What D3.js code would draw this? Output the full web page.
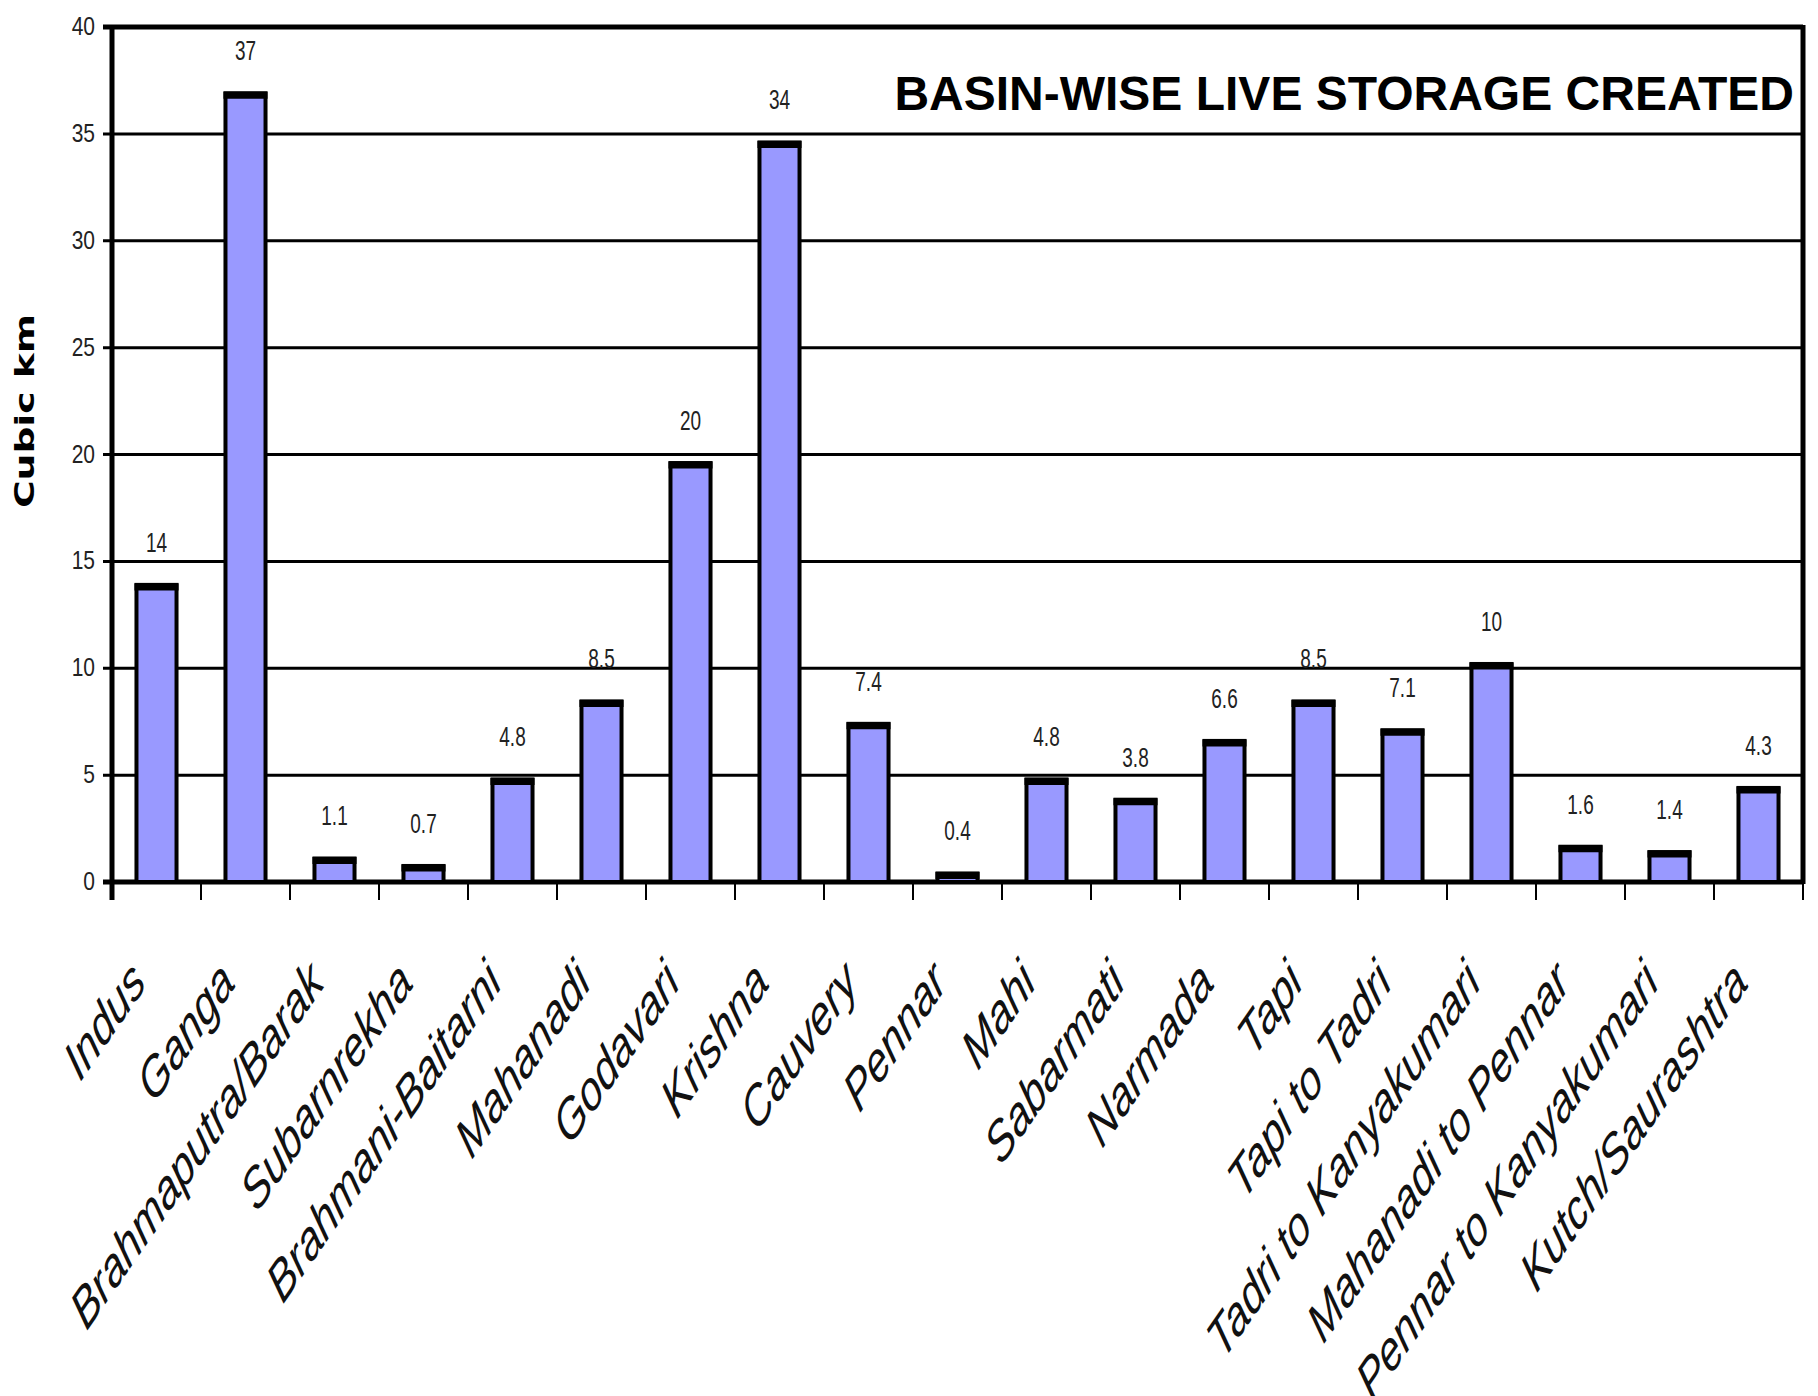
<!DOCTYPE html>
<html>
<head>
<meta charset="utf-8">
<script src="https://cdn.jsdelivr.net/npm/d3@7"></script>
<style>
  body { margin: 0; background: #fff; }
  svg { display: block; }
</style>
</head>
<body>
<script>
// Basin names, bar heights and the printed labels
const basins = ["Indus", "Ganga", "Brahmaputra/Barak", "Subarnrekha", "Brahmani-Baitarni",
  "Mahanadi", "Godavari", "Krishna", "Cauvery", "Pennar", "Mahi", "Sabarmati", "Narmada",
  "Tapi", "Tapi to Tadri", "Tadri to Kanyakumari", "Mahanadi to Pennar",
  "Pennar to Kanyakumari", "Kutch/Saurashtra"];
const storage = [13.9, 36.9, 1.1, 0.75, 4.8, 8.45, 19.6, 34.6, 7.4, 0.4, 4.8, 3.85, 6.6,
  8.45, 7.1, 10.2, 1.65, 1.4, 4.4];
const valueLabels = ["14", "37", "1.1", "0.7", "4.8", "8.5", "20", "34", "7.4", "0.4", "4.8",
  "3.8", "6.6", "8.5", "7.1", "10", "1.6", "1.4", "4.3"];
const yTicks = [0, 5, 10, 15, 20, 25, 30, 35, 40];

const W = 1818, H = 1396;
const plot = { left: 112, right: 1803, top: 27, bottom: 882 };
const stretch = 1.45; // the original picture is squashed tall

const svg = d3.select("body").append("svg")
    .attr("width", W)
    .attr("height", H);

const x = d3.scaleBand()
    .domain(basins)
    .range([plot.left, plot.right])
    .paddingInner(0.55)
    .paddingOuter(0.275);

const y = d3.scaleLinear()
    .domain([0, 40])
    .range([plot.bottom, plot.top]);

// gridlines
svg.append("g")
  .selectAll("line")
  .data(yTicks)
  .join("line")
    .attr("x1", plot.left - 9)
    .attr("x2", plot.right)
    .attr("y1", d => y(d))
    .attr("y2", d => y(d))
    .attr("stroke", "#000")
    .attr("stroke-width", d => (d === 0 || d === 40) ? 5 : 3);

// y tick labels
svg.append("g")
  .selectAll("text")
  .data(yTicks)
  .join("text")
    .attr("transform", d => `translate(${plot.left - 17},${y(d) + 8}) scale(1,1.2)`)
    .attr("text-anchor", "end")
    .style("font", "21px 'Liberation Sans Narrow', 'Liberation Sans', Arial, sans-serif")
    .attr("fill", "#222")
    .text(d => d);

// x ticks at band edges
const edges = d3.range(basins.length + 1).map(i => plot.left + i * x.step());
svg.append("g")
  .selectAll("line")
  .data(edges)
  .join("line")
    .attr("x1", d => d)
    .attr("x2", d => d)
    .attr("y1", plot.bottom)
    .attr("y2", plot.bottom + 18)
    .attr("stroke", "#000")
    .attr("stroke-width", 2);

// axis frame
svg.append("line")
    .attr("x1", plot.left).attr("x2", plot.left)
    .attr("y1", plot.top - 2).attr("y2", plot.bottom + 18)
    .attr("stroke", "#000").attr("stroke-width", 5);
svg.append("line")
    .attr("x1", plot.right).attr("x2", plot.right)
    .attr("y1", plot.top - 2).attr("y2", plot.bottom + 2)
    .attr("stroke", "#000").attr("stroke-width", 5);

// bars
const data = basins.map((b, i) => ({ name: b, v: storage[i], label: valueLabels[i] }));

svg.append("g")
  .selectAll("rect")
  .data(data)
  .join("rect")
    .attr("x", d => x(d.name))
    .attr("y", d => y(d.v))
    .attr("width", x.bandwidth())
    .attr("height", d => y(0) - y(d.v))
    .attr("fill", "#9999ff")
    .attr("stroke", "#000")
    .attr("stroke-width", 4);

// the darker top edge of each bar
svg.append("g")
  .selectAll("line")
  .data(data)
  .join("line")
    .attr("x1", d => x(d.name) - 2)
    .attr("x2", d => x(d.name) + x.bandwidth() + 2)
    .attr("y1", d => y(d.v) + 2)
    .attr("y2", d => y(d.v) + 2)
    .attr("stroke", "#000")
    .attr("stroke-width", 7);

// value labels
svg.append("g")
  .selectAll("text")
  .data(data)
  .join("text")
    .attr("transform", d => `translate(${x(d.name) + x.bandwidth() / 2},${y(d.v) - 33}) scale(1,1.45)`)
    .attr("text-anchor", "middle")
    .style("font", "19px 'Liberation Sans Narrow', 'Liberation Sans', Arial, sans-serif")
    .attr("fill", "#222")
    .text(d => d.label);

// x category labels
svg.append("g")
  .selectAll("text")
  .data(basins)
  .join("text")
    .attr("transform", d => `translate(${x(d) + x.bandwidth() / 2 - 9},${plot.bottom + 103}) scale(1,${stretch}) rotate(-45)`)
    .attr("text-anchor", "end")
    .style("font", "italic 39px 'Liberation Sans', Arial, sans-serif")
    .attr("fill", "#111")
    .text(d => d);

// y axis title
svg.append("text")
    .attr("transform", `translate(34,411) scale(1,${stretch}) rotate(-90)`)
    .attr("text-anchor", "middle")
    .style("font", "bold 26px 'DejaVu Sans', Verdana, sans-serif")
    .attr("fill", "#000")
    .text("Cubic km");

// chart title
svg.append("text")
    .attr("x", 1794)
    .attr("y", 110)
    .attr("text-anchor", "end")
    .style("font", "bold 48px 'Liberation Sans', Arial, sans-serif")
    .attr("fill", "#000")
    .text("BASIN-WISE LIVE STORAGE CREATED");
</script>
</body>
</html>
